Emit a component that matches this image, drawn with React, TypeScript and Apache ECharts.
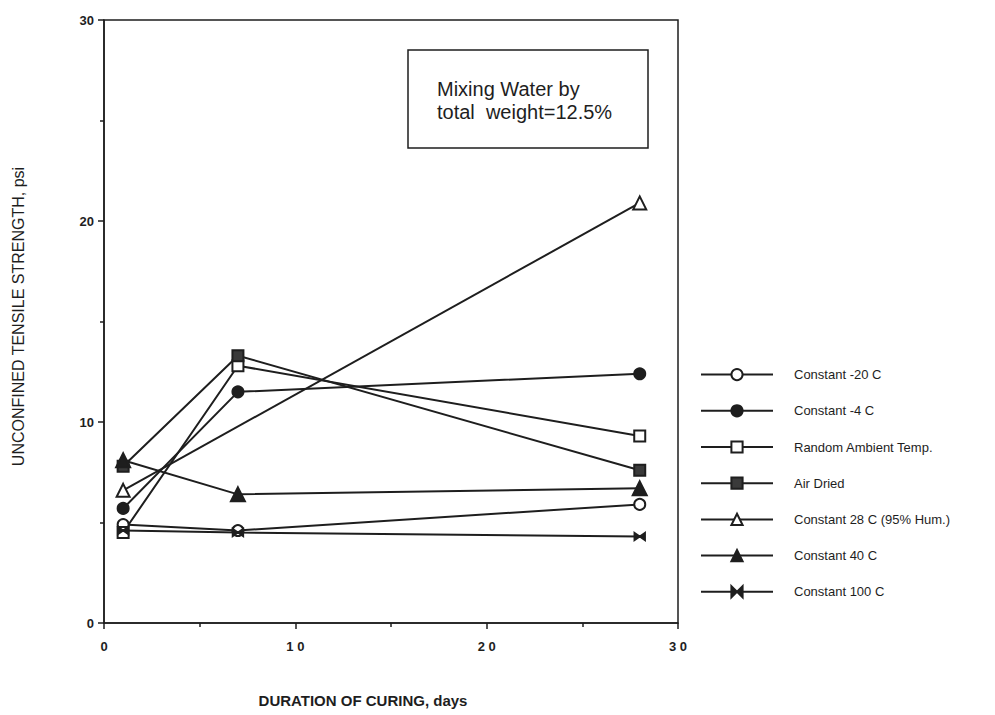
import React, { useEffect, useRef } from "react";
import * as echarts from "echarts";

const days = [1, 7, 28];
const constantMinus20 = [4.9, 4.6, 5.9];
const constantMinus4 = [5.7, 11.5, 12.4];
const randomAmbient = [4.5, 12.8, 9.3];
const airDried = [7.8, 13.3, 7.6];
const constant28Days = [1, 28];
const constant28 = [6.6, 20.9];
const constant40 = [8.1, 6.4, 6.7];
const constant100 = [4.6, 4.5, 4.3];

const xTicks = [0, 10, 20, 30];
const yTicks = [0, 10, 20, 30];

const seriesNames = [
  "Constant -20 C",
  "Constant -4 C",
  "Random Ambient Temp.",
  "Air Dried",
  "Constant 28 C (95% Hum.)",
  "Constant 40 C",
  "Constant 100 C",
];

const INK = "#1e1e1e";
const FONT = "'Liberation Sans', Arial, sans-serif";

const pairs = (xs: number[], ys: number[]) => xs.map((x, i) => [x, ys[i]]);

export default function App() {
  const ref = useRef<HTMLDivElement>(null);
  useEffect(() => {
    if (!ref.current) return;
    const chart = echarts.init(ref.current, undefined, { renderer: "svg" });
    const mk = (
      name: string,
      data: number[][],
      symbol: string,
      filled: boolean,
      size: any,
      fill?: string
    ) => ({
      name,
      type: "line",
      data,
      symbol,
      symbolSize: size,
      showAllSymbol: true,
      lineStyle: { color: INK, width: 2 },
      itemStyle: {
        color: filled ? fill || INK : "#ffffff",
        borderColor: INK,
        borderWidth: 2,
      },
      emphasis: { disabled: true },
      z: 3,
    });
    const bowtie = "path://M0,0 L10,5 L0,10 Z M20,0 L10,5 L20,10 Z";
    chart.setOption({
      animation: false,
      backgroundColor: "#ffffff",
      grid: {
        left: 104,
        top: 20,
        right: 317,
        bottom: 92,
        show: true,
        borderColor: INK,
        borderWidth: 1.5,
      },
      xAxis: {
        type: "value",
        min: 0,
        max: 30,
        interval: 10,
        name: "DURATION OF CURING, days",
        nameLocation: "middle",
        nameGap: 70,
        nameTextStyle: {
          color: INK,
          fontSize: 15,
          fontFamily: FONT,
          fontWeight: "bold",
          padding: [0, 56, 0, 0],
        },
        axisLine: { show: true, lineStyle: { color: INK, width: 1.5 } },
        axisTick: { show: true, length: 6, lineStyle: { color: INK, width: 1.5 } },
        minorTick: { show: true, splitNumber: 2, length: 4, lineStyle: { color: INK, width: 1.5 } },
        splitLine: { show: false },
        axisLabel: {
          color: INK,
          fontSize: 13,
          fontWeight: "bold",
          fontFamily: FONT,
          margin: 17,
          formatter: (v: number) =>
            xTicks.includes(v) ? String(v).split("").join(" ") : "",
        },
      },
      yAxis: {
        type: "value",
        min: 0,
        max: 30,
        interval: 10,
        name: "UNCONFINED TENSILE STRENGTH, psi",
        nameLocation: "middle",
        nameGap: 78,
        nameTextStyle: { color: INK, fontSize: 16, fontFamily: FONT, padding: [0, 0, 0, 10] },
        axisLine: { show: true, lineStyle: { color: INK, width: 1.5 } },
        axisTick: { show: true, length: 6, lineStyle: { color: INK, width: 1.5 } },
        minorTick: { show: true, splitNumber: 2, length: 4, lineStyle: { color: INK, width: 1.5 } },
        splitLine: { show: false },
        axisLabel: {
          color: INK,
          fontSize: 13,
          fontWeight: "bold",
          fontFamily: FONT,
          margin: 10,
          formatter: (v: number) => (yTicks.includes(v) ? String(v) : ""),
        },
      },
      legend: {
        orient: "vertical",
        left: 695,
        top: 363,
        itemWidth: 72,
        itemHeight: 14,
        itemGap: 23,
        selectedMode: false,
        data: seriesNames,
        textStyle: { color: INK, fontSize: 13, fontFamily: FONT, padding: [0, 0, 0, 16] },
      },
      graphic: [
        {
          type: "rect",
          shape: { x: 408, y: 50, width: 240, height: 98 },
          style: { fill: "#ffffff", stroke: INK, lineWidth: 1.5 },
          z: 10,
        },
        {
          type: "text",
          x: 437,
          y: 77,
          style: {
            text: "Mixing Water by\ntotal  weight=12.5%",
            fill: INK,
            font: `20px ${FONT}`,
            lineHeight: 23,
          },
          z: 11,
        },
      ],
      series: [
        mk(seriesNames[0], pairs(days, constantMinus20), "circle", false, 11),
        mk(seriesNames[1], pairs(days, constantMinus4), "circle", true, 11),
        mk(seriesNames[2], pairs(days, randomAmbient), "rect", false, 11),
        mk(seriesNames[3], pairs(days, airDried), "rect", true, 11, "#3a3a3a"),
        mk(seriesNames[4], pairs(constant28Days, constant28), "triangle", false, 13),
        mk(seriesNames[5], pairs(days, constant40), "triangle", true, 14),
        mk(seriesNames[6], pairs(days, constant100), bowtie, true, [10, 7]),
      ],
    });
    return () => chart.dispose();
  }, []);
  return (
    <div
      ref={ref}
      style={{ position: "fixed", left: 0, top: 0, width: 995, height: 715, background: "#fff" }}
    />
  );
}
